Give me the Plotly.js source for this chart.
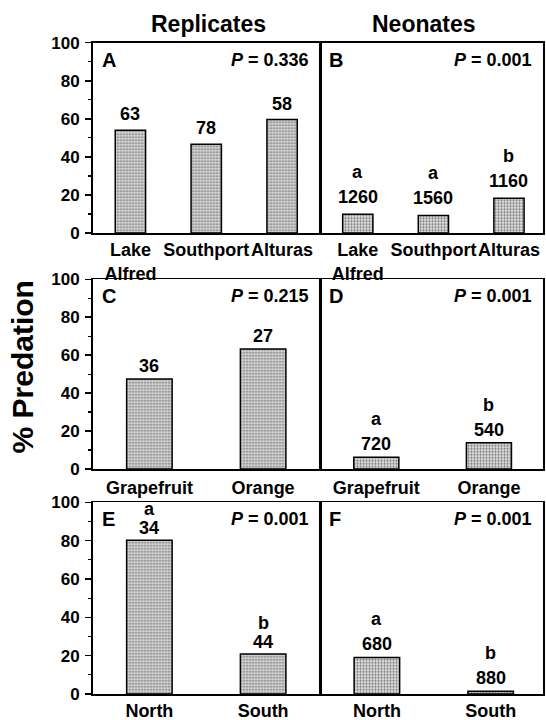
<!DOCTYPE html>
<html>
<head>
<meta charset="utf-8">
<script src="https://cdn.plot.ly/plotly-3.0.1.min.js"></script>
<style>html,body{margin:0;padding:0;background:#fff}#chart{width:546px;height:720px}</style>
</head>
<body>
<div id="chart"></div>
<script>
// ---- data ----
const siteLabels = ['Lake<br>Alfred', 'Southport', 'Alturas'];
const hostLabels = ['Grapefruit', 'Orange'];
const regionLabels = ['North', 'South'];

const replSiteVals = [54, 46.6, 59.6];
const replSiteN = [63, 78, 58];
const neoSiteVals = [9.9, 9.2, 18.3];
const neoSiteN = [1260, 1560, 1160];
const neoSiteLetters = ['a', 'a', 'b'];

const replHostVals = [47.4, 63.3];
const replHostN = [36, 27];
const neoHostVals = [6.2, 13.9];
const neoHostN = [720, 540];
const neoHostLetters = ['a', 'b'];

const replRegionVals = [80.2, 20.9];
const replRegionN = [34, 44];
const replRegionLetters = ['a', 'b'];
const neoRegionVals = [19.1, 1.4];
const neoRegionN = [680, 880];
const neoRegionLetters = ['a', 'b'];

const panelLetters = ['A', 'B', 'C', 'D', 'E', 'F'];
const pValues = ['0.336', '0.001', '0.215', '0.001', '0.001', '0.001'];
const columnTitles = ['Replicates', 'Neonates'];
const yTitle = '% Predation';

// ---- panels ----
const panels = [
  {labels: siteLabels, vals: replSiteVals, n: replSiteN, letters: null},
  {labels: siteLabels, vals: neoSiteVals, n: neoSiteN, letters: neoSiteLetters},
  {labels: hostLabels, vals: replHostVals, n: replHostN, letters: null},
  {labels: hostLabels, vals: neoHostVals, n: neoHostN, letters: neoHostLetters},
  {labels: regionLabels, vals: replRegionVals, n: replRegionN, letters: replRegionLetters},
  {labels: regionLabels, vals: neoRegionVals, n: neoRegionN, letters: neoRegionLetters}
];

const W = 546, H = 720;
const FONT = 'Liberation Sans, Arial, Helvetica, sans-serif';
const colX = [[92.5, 320], [320, 543]];
const rowY = [[42.7, 233], [279.3, 469], [502.3, 694]];
const xRanges = [[-0.5, 2.5], [-0.5, 2.45], [-0.5, 1.5], [-0.5, 1.48], [-0.5, 1.5], [-0.5, 1.46]];
const numShift = [4, 5, 1, 1, 0, 1];
const letterGap = [25, 25, 25, 25, 19, 25];
const xStandoff = [0, 0, 2, 2, 0, 0];

const data = [];
const layout = {
  width: W, height: H,
  margin: {l: 0, r: 0, t: 0, b: 0},
  paper_bgcolor: '#fff', plot_bgcolor: 'rgba(0,0,0,0)',
  showlegend: false,
  font: {family: FONT, color: '#000'},
  annotations: []
};

panels.forEach((p, i) => {
  const row = Math.floor(i / 2), col = i % 2;
  const sfx = i === 0 ? '' : String(i + 1);
  const xa = 'x' + sfx, ya = 'y' + sfx;
  const cats = p.labels.map((_, k) => k);
  data.push({
    type: 'bar', x: cats, y: p.vals, xaxis: xa, yaxis: ya,
    width: 0.4,
    marker: {
      color: '#d4d4d4',
      pattern: {shape: '.', fgcolor: '#707070', bgcolor: '#e2e2e2', size: 3, solidity: 0.4},
      line: {color: '#000', width: 1.5}
    },
    hoverinfo: 'skip'
  });
  layout['xaxis' + sfx] = {
    domain: [colX[col][0] / W, colX[col][1] / W],
    anchor: ya, range: xRanges[i],
    tickvals: cats, ticktext: p.labels, tickangle: 0,
    ticks: '', showline: true, mirror: true, linecolor: '#000', linewidth: 1.5,
    showgrid: false, zeroline: false, fixedrange: true,
    ticklabelstandoff: xStandoff[i],
    tickfont: {family: FONT, size: 18, color: '#000', weight: 'bold'}
  };
  const yax = {
    domain: [1 - rowY[row][1] / H, 1 - rowY[row][0] / H],
    anchor: xa, range: [0, 100],
    showline: true, mirror: true, linecolor: '#000', linewidth: 1.5,
    showgrid: false, zeroline: false, fixedrange: true
  };
  if (col === 0) {
    Object.assign(yax, {
      tickvals: [0, 20, 40, 60, 80, 100],
      ticks: 'outside', ticklen: 6, tickwidth: 1.5, tickcolor: '#000',
      minor: {tickvals: [10, 30, 50, 70, 90], ticks: 'outside', ticklen: 3, tickwidth: 1.2, tickcolor: '#000'},
      ticklabelstandoff: 2,
      tickfont: {family: FONT, size: 17, color: '#000', weight: 'bold'}
    });
  } else {
    Object.assign(yax, {showticklabels: false, ticks: ''});
  }
  layout['yaxis' + sfx] = yax;

  // panel letter and P value
  layout.annotations.push({
    xref: xa + ' domain', yref: ya + ' domain', x: 0, y: 1,
    xanchor: 'left', yanchor: 'middle', xshift: 7, yshift: -17,
    text: panelLetters[i], showarrow: false,
    font: {family: FONT, size: 20, color: '#000', weight: 'bold'}
  });
  layout.annotations.push({
    xref: xa + ' domain', yref: ya + ' domain', x: 1, y: 1,
    xanchor: 'right', yanchor: 'middle', xshift: -9, yshift: -17,
    text: '<i>P</i> = ' + pValues[i], showarrow: false,
    font: {family: FONT, size: 18, color: '#000', weight: 'bold'}
  });
  // sample sizes and letters
  p.vals.forEach((v, k) => {
    layout.annotations.push({
      xref: xa, yref: ya, x: k, y: v, xanchor: 'center', yanchor: 'bottom',
      yshift: numShift[i], text: String(p.n[k]), showarrow: false,
      font: {family: FONT, size: 18, color: '#000', weight: 'bold'}
    });
    if (p.letters) {
      layout.annotations.push({
        xref: xa, yref: ya, x: k, y: v, xanchor: 'center', yanchor: 'bottom',
        yshift: numShift[i] + letterGap[i], text: p.letters[k], showarrow: false,
        font: {family: FONT, size: 18, color: '#000', weight: 'bold'}
      });
    }
  });
});

// column titles
const titleX = [209, 423.5];
columnTitles.forEach((t, c) => {
  layout.annotations.push({
    xref: 'paper', yref: 'paper', x: titleX[c] / W, y: 1 - 24 / H,
    xanchor: 'center', yanchor: 'middle', text: t, showarrow: false,
    font: {family: FONT, size: 23, color: '#000', weight: 'bold'}
  });
});
// y title
layout.annotations.push({
  xref: 'paper', yref: 'paper', x: 22 / W, y: 1 - 367.5 / H,
  xanchor: 'center', yanchor: 'middle', textangle: -90, text: yTitle, showarrow: false,
  font: {family: FONT, size: 30, color: '#000', weight: 'bold'}
});

Plotly.newPlot('chart', data, layout, {displayModeBar: false, staticPlot: true});
</script>
</body>
</html>
